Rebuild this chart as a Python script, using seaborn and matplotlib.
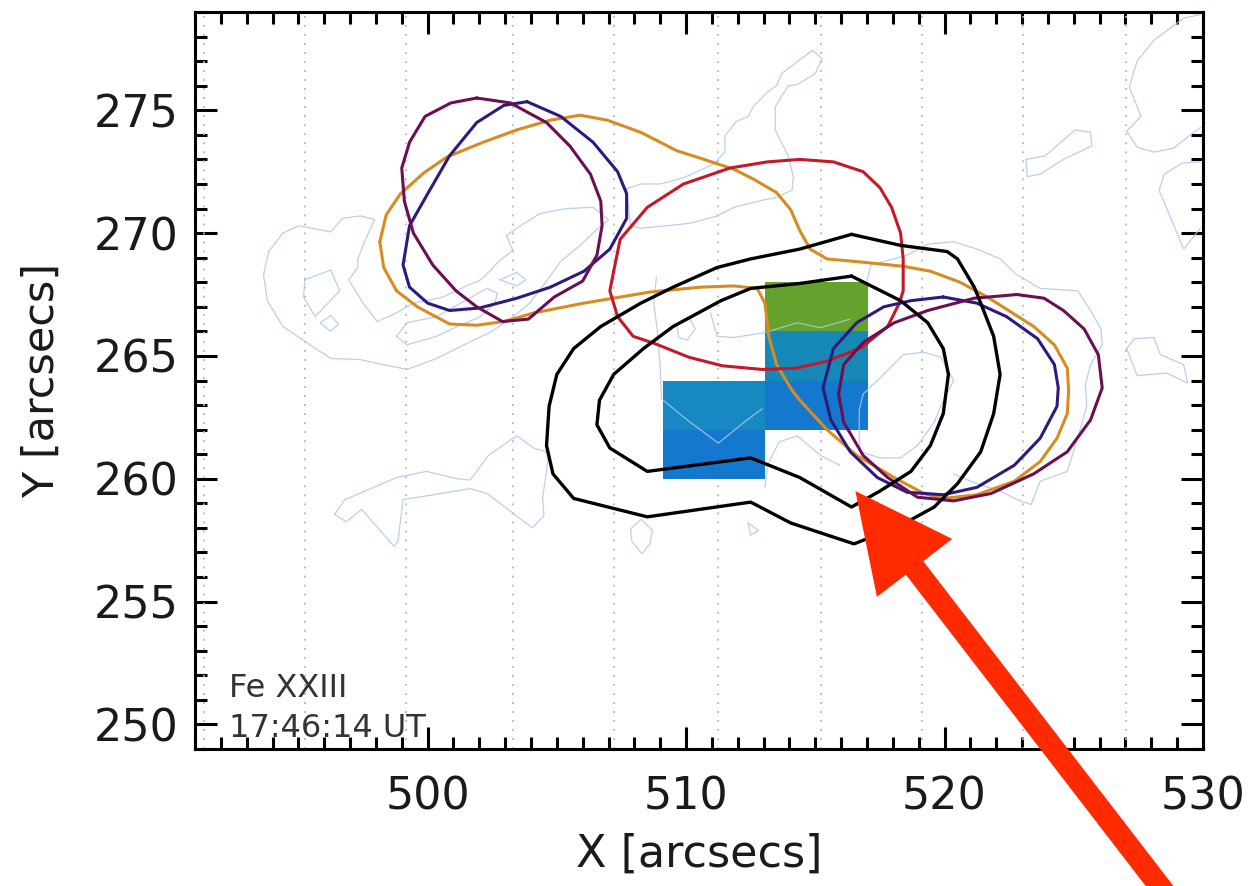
import matplotlib
matplotlib.use("Agg")
import matplotlib.pyplot as plt
from matplotlib.patches import FancyArrow
from matplotlib.transforms import IdentityTransform
from matplotlib.ticker import MultipleLocator
import seaborn as sns

# ---------------- data ----------------
x_limits = (491, 530)
y_limits = (249, 279)
x_major = [500, 510, 520, 530]
y_major = [250, 255, 260, 265, 270, 275]
x_label = "X [arcsecs]"
y_label = "Y [arcsecs]"
annotation_lines = ["Fe XXIII", "17:46:14 UT"]

# EIS slit positions (dotted lines)
slit_x = [491.35, 495.26, 499.17, 503.31, 507.22, 511.24, 515.22, 519.13, 523.04, 527.03]

# Raster cells (lower-left corner, 4" x 2")
cell_x0 = [509.1, 509.1, 513.07, 513.07, 513.07]
cell_y0 = [260, 262, 262, 264, 266]
cell_w = 3.97
cell_h = 2.0
cell_level = [0, 1, 0, 2, 3]

# Fe XXIII contours (black)
fe23_outer = [(516.4, 269.95), (518.3, 269.5), (520.1, 269.25), (520.5, 268.95), (521.15, 267.8),
              (521.4, 267.15), (521.9, 265.8), (522.15, 264.25), (521.9, 262.65), (521.4, 261.1),
              (520.5, 259.8), (519.6, 258.85), (518.3, 258.1), (516.5, 257.35), (515.2, 257.8),
              (514.05, 258.2), (512.5, 259.05), (508.5, 258.45), (505.65, 259.2), (504.85, 260.2),
              (504.6, 261.35), (504.7, 262.95), (505.0, 264.25), (505.65, 265.3), (506.7, 266.2),
              (508.25, 267.15), (509.5, 267.8), (511.2, 268.6), (512.5, 268.95), (514.4, 269.35),
              (516.4, 269.95)]
fe23_inner = [(516.4, 268.25), (518.3, 267.25), (519.35, 266.35), (519.95, 265.3), (520.15, 264.25),
              (519.95, 262.65), (519.45, 261.35), (518.7, 260.3), (517.5, 259.5), (516.4, 258.85),
              (514.4, 260.05), (512.5, 260.85), (508.5, 260.3), (507.05, 261.25), (506.55, 262.2),
              (506.65, 263.2), (507.2, 264.25), (508.35, 265.3), (509.5, 266.2), (511.35, 267.25),
              (512.5, 267.75), (514.4, 267.95), (516.4, 268.25)]

red_contour = [(507.2, 268.45), (507.45, 269.75), (508.5, 271.05), (509.9, 272.0), (511.7, 272.65),
               (513.15, 272.9), (514.4, 273.0), (515.7, 272.9), (516.85, 272.5), (517.5, 271.85),
               (517.95, 271.05), (518.3, 270.0), (518.4, 268.95), (518.4, 267.65), (518.25, 267.15),
               (517.8, 266.2), (516.8, 265.35), (515.5, 264.8), (514.25, 264.5), (512.95, 264.45),
               (511.4, 264.6), (510.1, 264.95), (508.8, 265.5), (507.95, 265.8), (507.35, 266.6),
               (507.05, 267.65), (507.2, 268.45)]

orange_contour = [(498.15, 269.65), (498.4, 270.75), (498.95, 271.6), (499.85, 272.45), (500.75, 273.1),
                  (502.15, 273.7), (503.45, 274.2), (504.75, 274.6), (505.9, 274.8), (506.95, 274.6),
                  (508.25, 274.1), (509.65, 273.35), (510.55, 273.05), (511.85, 272.6), (512.6, 272.2),
                  (513.5, 271.65), (514.05, 270.95), (514.4, 270.1), (514.8, 269.35), (515.45, 268.95),
                  (517.0, 268.8), (518.4, 268.65), (519.45, 268.45), (520.6, 268.0), (521.65, 267.4),
                  (523.45, 266.2), (524.25, 265.45), (524.75, 264.5), (524.8, 263.6), (524.75, 262.65),
                  (524.35, 261.65), (523.7, 260.7), (522.7, 259.9), (521.25, 259.35), (519.95, 259.2),
                  (519.2, 259.4), (518.05, 260.05), (516.6, 260.95), (515.45, 262.0), (514.4, 263.2),
                  (514.1, 263.6), (513.5, 264.65), (513.2, 265.8), (513.05, 267.15), (512.75, 267.75),
                  (511.85, 267.85), (510.55, 267.8), (508.6, 267.6), (506.05, 267.15), (504.1, 266.75),
                  (502.95, 266.4), (501.9, 266.25), (500.85, 266.3), (499.6, 267.0), (498.8, 267.65),
                  (498.3, 268.6), (498.15, 269.65)]

navy_left = [(503.85, 275.35), (502.95, 275.2), (501.9, 274.5), (500.85, 273.15), (500.0, 271.6),
             (499.3, 270.3), (499.05, 268.7), (499.3, 267.8), (500.0, 267.15), (500.85, 266.85),
             (502.0, 266.95), (503.45, 267.35), (504.75, 267.8), (506.05, 268.45), (507.05, 269.35),
             (507.7, 270.6), (507.7, 271.6), (507.35, 272.5), (506.4, 273.7), (505.15, 274.75),
             (503.85, 275.35)]
navy_right = [(519.95, 267.4), (518.7, 267.25), (517.65, 267.0), (516.6, 266.35), (515.7, 265.3),
              (515.3, 263.7), (515.6, 262.4), (516.35, 261.1), (517.4, 260.05), (518.55, 259.45),
              (519.95, 259.35), (521.25, 259.65), (522.7, 260.55), (523.7, 261.65), (524.35, 262.95),
              (524.4, 263.7), (524.25, 264.65), (523.6, 265.7), (522.4, 266.6), (521.25, 267.15),
              (519.95, 267.4)]
maroon_left = [(501.9, 275.5), (500.9, 275.3), (499.9, 274.75), (499.3, 273.7), (499.0, 272.65),
               (499.1, 271.3), (499.45, 270.0), (500.2, 268.7), (501.1, 267.65), (501.9, 267.0),
               (502.9, 266.4), (503.9, 266.5), (504.9, 267.4), (506.0, 268.05), (506.55, 269.1),
               (506.75, 270.3), (506.7, 271.3), (506.3, 272.4), (505.5, 273.55), (504.6, 274.5),
               (503.2, 275.3), (501.9, 275.5)]
maroon_right = [(522.8, 267.5), (521.15, 267.35), (519.35, 266.85), (518.05, 266.35), (516.85, 265.55),
                (516.1, 264.65), (515.9, 263.45), (516.1, 262.3), (516.85, 260.95), (517.8, 260.05),
                (518.95, 259.25), (520.35, 259.1), (521.8, 259.4), (523.45, 260.2), (524.75, 261.1),
                (525.65, 262.4), (526.1, 263.7), (525.95, 265.05), (525.4, 266.1), (524.6, 266.85),
                (523.85, 267.35), (522.8, 267.5)]

# Faint background intensity contours (light blue)
faint_blob_west = [(494.4, 270.0), (495.0, 270.3), (496.25, 270.05), (496.7, 270.6), (497.4, 270.7),
                   (497.95, 270.55), (497.6, 269.75), (497.3, 268.95), (497.3, 268.6), (496.95, 268.1),
                   (497.5, 267.15), (498.05, 266.4), (498.8, 266.75), (499.45, 267.15), (499.95, 267.25),
                   (500.6, 267.4), (501.4, 267.8), (502.05, 268.1), (502.4, 268.45), (502.75, 268.85),
                   (503.3, 269.3), (503.05, 269.9), (503.45, 270.2), (504.35, 270.8), (505.4, 271.0),
                   (506.4, 271.05), (507.0, 270.55), (506.55, 270.15), (505.9, 269.5), (505.15, 268.85),
                   (504.6, 268.05), (503.95, 267.15), (503.2, 266.5), (502.4, 265.95), (501.4, 265.45),
                   (500.35, 264.9), (499.2, 264.45), (498.05, 264.7), (497.4, 264.85), (496.25, 264.9),
                   (495.45, 265.45), (494.4, 266.2), (493.8, 267.25), (493.65, 268.3), (493.85, 269.25),
                   (494.4, 270.0)]
faint_loop_a = [(495.25, 268.1), (496.25, 268.5), (496.6, 267.65), (495.65, 266.6), (495.2, 267.4),
                (495.25, 268.1)]
faint_loop_b = [(495.85, 266.35), (496.25, 266.65), (496.55, 266.3), (496.25, 266.0), (495.85, 266.35)]
faint_loop_c = [(498.8, 265.8), (499.2, 266.35), (500.35, 266.6), (502.3, 267.75), (502.7, 267.55),
                (502.6, 267.15), (502.05, 266.6), (501.15, 266.2), (500.35, 265.8), (499.2, 265.45),
                (498.8, 265.8)]
faint_loop_d = [(502.8, 268.1), (503.45, 268.4), (503.8, 268.1), (503.45, 267.85), (502.8, 268.1)]
faint_north = [(507.7, 271.8), (508.25, 272.0), (509.0, 272.0), (509.9, 272.25), (511.05, 272.8),
               (511.5, 273.3), (511.5, 273.95), (511.95, 274.55), (512.4, 274.75), (512.6, 275.15),
               (513.15, 275.75), (513.5, 276.0), (513.7, 276.5), (514.9, 277.45), (515.25, 277.1),
               (515.0, 276.5), (514.3, 276.05), (513.95, 276.0), (513.45, 275.15), (513.45, 274.2),
               (513.95, 273.15), (514.15, 272.3), (514.1, 271.75), (513.5, 271.45), (513.0, 271.35),
               (511.85, 271.05), (511.2, 270.7), (510.15, 270.4), (509.25, 270.3), (508.25, 270.2),
               (507.85, 270.3), (507.7, 271.8)]
faint_ne_1 = [(529.9, 278.9), (529.25, 278.75), (528.1, 277.85), (527.45, 277.0), (527.15, 275.95),
              (527.6, 274.75), (527.05, 274.15), (527.45, 273.5), (528.1, 273.3), (528.85, 273.45),
              (529.45, 273.95), (529.9, 274.3)]
faint_ne_2 = [(529.9, 272.9), (529.2, 272.85), (528.5, 272.4), (528.3, 271.75), (529.25, 269.35),
              (529.9, 270.2)]
faint_ne_3 = [(523.15, 273.0), (523.9, 273.15), (525.05, 274.2), (525.65, 274.1), (525.7, 273.55),
              (524.6, 273.0), (523.7, 272.4), (523.2, 272.3), (523.15, 273.0)]
faint_east = [(527.05, 265.3), (527.35, 265.7), (528.1, 265.75), (528.35, 265.05), (529.25, 264.65),
              (529.4, 263.9), (528.6, 264.3), (527.45, 264.2), (527.05, 265.3)]
faint_core = [(516.7, 262.8), (516.85, 263.45), (517.5, 264.1), (518.4, 265.05), (519.2, 265.15),
              (519.85, 264.95), (520.35, 264.0), (519.85, 262.95), (519.6, 262.3), (518.95, 261.35),
              (518.3, 260.85), (517.5, 260.85), (516.75, 261.1), (516.7, 261.65), (516.7, 262.8)]
faint_core_outer = [(517.0, 268.05), (517.15, 268.7), (518.55, 269.1), (519.35, 269.55), (520.35, 269.65),
                    (521.25, 269.35), (522.15, 268.95), (522.8, 268.3), (523.7, 267.75), (525.15, 267.65),
                    (525.65, 266.85), (526.05, 266.1), (526.1, 265.45), (525.65, 264.65), (525.45, 263.85),
                    (525.5, 262.95), (525.15, 261.65), (524.75, 260.3), (523.7, 259.9), (523.35, 258.95),
                    (522.8, 259.15), (522.15, 259.5), (521.25, 259.8), (520.35, 260.2)]
faint_south = [(496.4, 258.55), (496.8, 259.15), (498.8, 260.05), (499.95, 260.3), (501.15, 260.0),
               (501.65, 259.95), (502.35, 260.95), (503.45, 261.75), (504.1, 261.25), (504.6, 261.1),
               (504.65, 260.75), (504.6, 260.3), (504.45, 259.25), (504.5, 258.5), (504.05, 258.0),
               (503.3, 258.6), (502.3, 259.4), (501.65, 259.6), (500.5, 259.4), (499.05, 259.15),
               (498.85, 257.45), (498.7, 257.25), (497.45, 258.75), (496.85, 258.25), (496.4, 258.55)]
faint_south_2 = [(507.85, 257.95), (508.25, 258.35), (508.7, 257.9), (508.6, 257.35), (508.3, 256.95),
                 (507.9, 257.45), (507.85, 257.95)]
faint_south_3 = [(512.4, 258.2), (512.8, 257.9), (512.5, 257.7), (512.4, 258.2)]
faint_mid_1 = [(508.85, 268.2), (508.75, 267.15), (508.9, 265.9), (509.0, 264.5), (509.05, 263.25),
               (510.1, 262.35), (511.25, 261.45), (512.3, 262.35), (512.95, 262.85)]
faint_mid_2 = [(509.65, 266.3), (510.15, 266.5), (510.35, 266.1), (510.05, 265.65), (509.7, 265.75),
               (509.65, 266.3)]
faint_mid_3 = [(510.95, 266.75), (511.2, 265.8), (511.85, 265.75), (513.05, 265.95), (514.3, 266.35),
               (515.2, 266.15), (516.35, 266.5)]
faint_mid_4 = [(513.05, 259.65), (513.15, 260.55), (513.6, 261.5), (514.3, 261.75), (515.2, 260.95),
               (515.95, 260.55)]

faint_contours = [faint_blob_west, faint_loop_a, faint_loop_b, faint_loop_c, faint_loop_d,
                  faint_north, faint_ne_1, faint_ne_2, faint_ne_3, faint_east, faint_core,
                  faint_core_outer, faint_south, faint_south_2, faint_south_3, faint_mid_1,
                  faint_mid_2, faint_mid_3, faint_mid_4]

arrow_tip = (516.55, 259.5)

# ---------------- style ----------------
sns.set_theme(style="white")
plt.rcParams["font.family"] = ["DejaVu Sans"]
plt.rcParams["text.color"] = "#1a1a1a"
plt.rcParams["xtick.labelcolor"] = "#1a1a1a"
plt.rcParams["ytick.labelcolor"] = "#1a1a1a"
plt.rcParams["axes.labelcolor"] = "#1a1a1a"

level_colors = {0: "#1479CE", 1: "#1689C3", 2: "#1688B6", 3: "#64A22E"}
faint_color = "#AFC6EC"

fig = plt.figure(figsize=(12.48, 8.86), dpi=100)
fig.patch.set_facecolor("white")
ax = fig.add_axes([0.15625, 0.15463, 0.8077, 0.8318])
ax.set_facecolor("white")


def draw(points, color, lw, z, alpha=1.0):
    xs = [p[0] for p in points]
    ys = [p[1] for p in points]
    sns.lineplot(x=xs, y=ys, sort=False, estimator=None, color=color, alpha=alpha,
                 linewidth=lw, ax=ax, zorder=z, legend=False)


# dotted slit lines
ax.vlines(slit_x, y_limits[0], y_limits[1], colors="#B5B5B5", linewidth=1.3,
          linestyles=(0, (1, 4)), zorder=1)

# raster cells
ax.bar(cell_x0, [cell_h] * len(cell_x0), width=cell_w, bottom=cell_y0, align="edge",
       color=[level_colors[l] for l in cell_level], linewidth=0, zorder=2)

for c in faint_contours:
    draw(c, faint_color, 0.9, 3, alpha=0.85)

draw(orange_contour, "#D98B23", 2.2, 4)
draw(red_contour, "#C21A2A", 2.2, 4)
draw(navy_left, "#2E1A7E", 2.2, 4)
draw(navy_right, "#2E1A7E", 2.2, 4)
draw(maroon_left, "#6B0F52", 2.2, 4)
draw(maroon_right, "#6B0F52", 2.2, 4)
draw(fe23_outer, "black", 2.4, 5)
draw(fe23_inner, "black", 2.4, 5)

ax.set_xlim(*x_limits)
ax.set_ylim(*y_limits)
ax.set_xticks(x_major)
ax.set_yticks(y_major)
ax.xaxis.set_minor_locator(MultipleLocator(1))
ax.yaxis.set_minor_locator(MultipleLocator(1))
ax.tick_params(which="both", direction="in", top=True, right=True, bottom=True, left=True,
               color="black", width=2.2)
ax.tick_params(which="major", length=15.5, labelsize=32, pad=12)
ax.tick_params(axis="x", which="major", pad=19)
ax.tick_params(which="minor", length=8.5)
for s in ax.spines.values():
    s.set_visible(True)
    s.set_color("black")
    s.set_linewidth(2.2)
ax.grid(False)

ax.set_xlabel(x_label, fontsize=32)
ax.set_ylabel(y_label, fontsize=31)
ax.xaxis.set_label_coords(0.5, -0.114)
ax.yaxis.set_label_coords(-0.131, 0.5)

ax.text(0.034, 0.071, annotation_lines[0], transform=ax.transAxes, fontsize=23,
        ha="left", va="baseline", color="#333333", zorder=6)
ax.text(0.034, 0.0167, annotation_lines[1], transform=ax.transAxes, fontsize=23,
        ha="left", va="baseline", color="#333333", zorder=6)

# red arrow pointing at the footpoint
tip = ax.transData.transform(arrow_tip)
ux, uy = 0.610, -0.792
L = 540.0
tail = (tip[0] + L * ux, tip[1] + L * uy)
arr = FancyArrow(tail[0], tail[1], tip[0] - tail[0], tip[1] - tail[1], width=22,
                 head_width=95, head_length=97, length_includes_head=True,
                 color="#FF2A00", linewidth=0, transform=IdentityTransform(), zorder=10)
fig.add_artist(arr)

fig.savefig("out.png", dpi=100, facecolor="white")
